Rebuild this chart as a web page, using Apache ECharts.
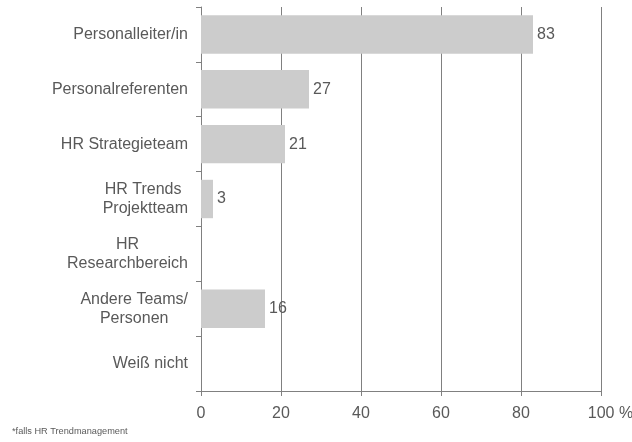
<!DOCTYPE html>
<html><head><meta charset="utf-8">
<script src="https://cdn.jsdelivr.net/npm/echarts@6/dist/echarts.min.js"></script>
<style>html,body{margin:0;padding:0;background:#fff}#c{width:632px;height:442px}</style>
</head><body><div id="c"></div>
<script>
var categories = ['Personalleiter/in', 'Personalreferenten', 'HR Strategieteam', 'HR Trends \nProjektteam', 'HR\nResearchbereich', 'Andere Teams/\nPersonen', 'Weiß nicht'];
var values = [83, 27, 21, 3, null, 16, null];
var xTicks = [0, 20, 40, 60, 80, 100];
var footnote = '*falls HR Trendmanagement';

var chart = echarts.init(document.getElementById('c'), null, {renderer: 'canvas'});
var txt = '#595959';
var ff = 'Liberation Sans, Arial, sans-serif';
chart.setOption({
  animation: false,
  textStyle: {fontFamily: ff},
  grid: {left: 201, right: 31, top: 7, bottom: 51, containLabel: false, outerBoundsMode: 'none'},
  xAxis: {
    type: 'value', min: 0, max: 100, interval: 20,
    axisLine: {show: true, lineStyle: {color: '#808080', width: 1}},
    axisTick: {show: true, length: 5, lineStyle: {color: '#808080'}},
    splitLine: {show: true, lineStyle: {color: '#808080', width: 1}},
    axisLabel: {color: txt, fontSize: 16, margin: 15,
      formatter: function (v) { return v === xTicks[xTicks.length - 1] ? '{pct|' + v + ' %}' : String(v); },
      rich: {pct: {color: txt, fontSize: 16, fontFamily: ff, padding: [0, 0, 0, 19]}}}
  },
  yAxis: {
    type: 'category', data: categories, inverse: true,
    axisLine: {show: true, lineStyle: {color: '#808080', width: 1}},
    axisTick: {show: true, length: 5, alignWithLabel: false, lineStyle: {color: '#808080'}},
    axisLabel: {color: txt, fontSize: 16, margin: 13, lineHeight: 19, align: 'right',
      formatter: function (v) { return v.split('\n').map(function (s) { return '{c|' + s + '}'; }).join('\n'); },
      rich: {c: {align: 'center', color: txt, fontSize: 16, lineHeight: 19, fontFamily: ff}}}
  },
  series: [{
    type: 'bar', data: values, barCategoryGap: '30%',
    itemStyle: {color: '#cccccc'},
    label: {show: true, position: 'right', distance: 4, color: txt, fontSize: 16}
  }],
  graphic: [{type: 'text', left: 12, top: 427, style: {text: footnote, fontSize: 9.2, fill: '#595959', fontFamily: ff}}]
});
</script></body></html>
